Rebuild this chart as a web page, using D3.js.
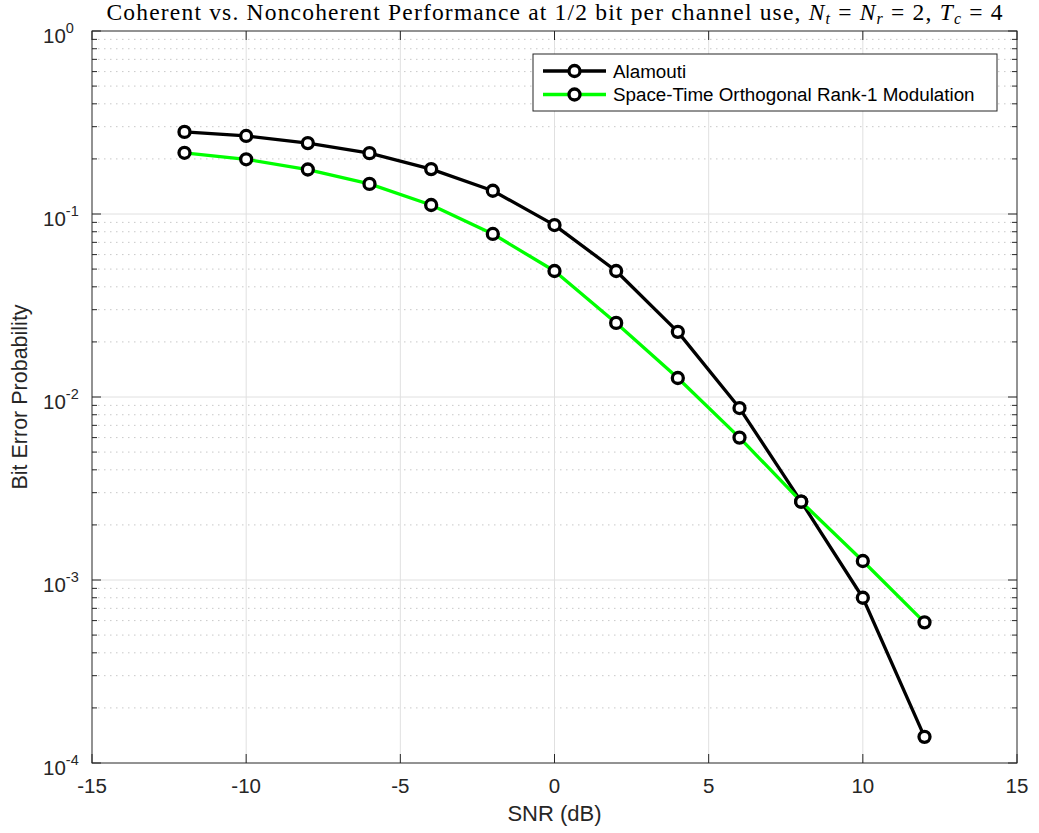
<!DOCTYPE html>
<html>
<head>
<meta charset="utf-8">
<script src="https://cdn.jsdelivr.net/npm/d3@7"></script>
<style>
  body { margin: 0; background: #fff; }
  text { font-family: "Liberation Sans", Arial, sans-serif; }
</style>
</head>
<body>
<div id="chart"></div>
<script>
// SNR points (dB) and bit error probabilities
const snr = [-12, -10, -8, -6, -4, -2, 0, 2, 4, 6, 8, 10, 12];
const alamouti = [0.281, 0.267, 0.244, 0.215, 0.176, 0.134, 0.087, 0.0488, 0.0227, 0.0087, 0.00268, 0.0008, 0.000139];
const rank1 = [0.216, 0.199, 0.175, 0.146, 0.112, 0.0778, 0.0488, 0.0254, 0.0127, 0.006, 0.00268, 0.00127, 0.000587];
const xTicks = [-15, -10, -5, 0, 5, 10, 15];
const yDecades = [0, -1, -2, -3, -4];
const seriesNames = ["Alamouti", "Space-Time Orthogonal Rank-1 Modulation"];
const seriesColors = ["#000000", "#00ff00"];

const width = 1039, height = 833;
const pL = 92, pR = 1017, pT = 31, pB = 763;

const svg = d3.select("#chart").append("svg")
  .attr("width", width)
  .attr("height", height);

const x = d3.scaleLinear().domain([-15, 15]).range([pL, pR]);
const y = d3.scaleLog().domain([1e-4, 1]).range([pB, pT]);

// minor dotted grid
let minors = [];
yDecades.slice(1).forEach(e => {
  for (let k = 2; k <= 9; k++) minors.push(k * Math.pow(10, e));
});
svg.append("g").selectAll("line").data(minors).enter().append("line")
  .attr("x1", pL).attr("x2", pR)
  .attr("y1", d => y(d)).attr("y2", d => y(d))
  .attr("stroke", "#c8c8c8").attr("stroke-width", 1)
  .attr("stroke-dasharray", "1.5,4.5");

// major grid
svg.append("g").selectAll("line").data(yDecades.slice(1, -1)).enter().append("line")
  .attr("x1", pL).attr("x2", pR)
  .attr("y1", d => y(Math.pow(10, d))).attr("y2", d => y(Math.pow(10, d)))
  .attr("stroke", "#e0e0e0").attr("stroke-width", 1);
svg.append("g").selectAll("line").data(xTicks.slice(1, -1)).enter().append("line")
  .attr("y1", pT).attr("y2", pB)
  .attr("x1", d => x(d)).attr("x2", d => x(d))
  .attr("stroke", "#e0e0e0").attr("stroke-width", 1);

// ticks (inside, on all four sides)
const axisColor = "#262626";
const tk = svg.append("g").attr("stroke", axisColor).attr("stroke-width", 1);
xTicks.forEach(t => {
  tk.append("line").attr("x1", x(t)).attr("x2", x(t)).attr("y1", pB).attr("y2", pB - 9);
  tk.append("line").attr("x1", x(t)).attr("x2", x(t)).attr("y1", pT).attr("y2", pT + 9);
});
yDecades.forEach(e => {
  const yy = y(Math.pow(10, e));
  tk.append("line").attr("x1", pL).attr("x2", pL + 9).attr("y1", yy).attr("y2", yy);
  tk.append("line").attr("x1", pR).attr("x2", pR - 9).attr("y1", yy).attr("y2", yy);
});
minors.forEach(m => {
  const yy = y(m);
  tk.append("line").attr("x1", pL).attr("x2", pL + 5).attr("y1", yy).attr("y2", yy);
  tk.append("line").attr("x1", pR).attr("x2", pR - 5).attr("y1", yy).attr("y2", yy);
});

// box
svg.append("rect")
  .attr("x", pL).attr("y", pT)
  .attr("width", pR - pL).attr("height", pB - pT)
  .attr("fill", "none").attr("stroke", axisColor).attr("stroke-width", 1);

// tick labels
svg.append("g").selectAll("text").data(xTicks).enter().append("text")
  .attr("x", d => x(d)).attr("y", pB + 30)
  .attr("text-anchor", "middle")
  .attr("font-size", 20.5).attr("fill", axisColor)
  .text(d => d);

const yl = svg.append("g").selectAll("text").data(yDecades).enter().append("text")
  .attr("x", 43).attr("y", d => y(Math.pow(10, d)) + 12)
  .attr("text-anchor", "start")
  .attr("font-size", 20.5).attr("fill", axisColor);
yl.append("tspan").text("10");
yl.append("tspan").attr("dy", -10).attr("font-size", 14.5).text(d => d);

// axis labels
svg.append("text")
  .attr("x", (pL + pR) / 2).attr("y", 821)
  .attr("text-anchor", "middle").attr("font-size", 22).attr("fill", axisColor)
  .text("SNR (dB)");
svg.append("text")
  .attr("transform", `translate(27, ${(pT + pB) / 2}) rotate(-90)`)
  .attr("text-anchor", "middle").attr("font-size", 21.5).attr("fill", axisColor)
  .text("Bit Error Probability");

// title
const title = svg.append("text")
  .attr("x", (pL + pR) / 2).attr("y", 20)
  .attr("text-anchor", "middle")
  .attr("font-size", 23.5)
  .attr("textLength", 896)
  .style("font-family", "'Liberation Serif', 'DejaVu Serif', serif")
  .attr("fill", "#000");
title.append("tspan").text("Coherent vs. Noncoherent Performance at 1/2 bit per channel use, ");
title.append("tspan").attr("font-style", "italic").text("N");
title.append("tspan").attr("font-style", "italic").attr("font-size", 16).attr("dy", 4).text("t");
title.append("tspan").attr("dy", -4).text(" = ");
title.append("tspan").attr("font-style", "italic").text("N");
title.append("tspan").attr("font-style", "italic").attr("font-size", 16).attr("dy", 4).text("r");
title.append("tspan").attr("dy", -4).text(" = 2, ");
title.append("tspan").attr("font-style", "italic").text("T");
title.append("tspan").attr("font-style", "italic").attr("font-size", 16).attr("dy", 4).text("c");
title.append("tspan").attr("dy", -4).text(" = 4");

// series
const allSeries = [alamouti, rank1];
const line = d3.line().x((d, i) => x(snr[i])).y(d => y(d));
const plot = svg.append("g");
allSeries.forEach((vals, s) => {
  plot.append("path").datum(vals)
    .attr("d", line)
    .attr("fill", "none")
    .attr("stroke", seriesColors[s])
    .attr("stroke-width", 3.3)
    .attr("stroke-linejoin", "round");
});
allSeries.forEach((vals, s) => {
  plot.selectAll(null).data(vals).enter().append("circle")
    .attr("cx", (d, i) => x(snr[i])).attr("cy", d => y(d))
    .attr("r", 5.5)
    .attr("fill", "#fff").attr("stroke", "#000").attr("stroke-width", 3.3);
});

// legend
const lg = svg.append("g");
lg.append("rect")
  .attr("x", 533).attr("y", 54).attr("width", 464).attr("height", 57)
  .attr("fill", "#fff").attr("stroke", axisColor).attr("stroke-width", 1);
seriesNames.forEach((name, s) => {
  const yy = 71 + s * 23.5;
  lg.append("line").attr("x1", 543).attr("x2", 606).attr("y1", yy).attr("y2", yy)
    .attr("stroke", seriesColors[s]).attr("stroke-width", 3.3);
  lg.append("circle").attr("cx", 574.5).attr("cy", yy).attr("r", 5.5)
    .attr("fill", "#fff").attr("stroke", "#000").attr("stroke-width", 3.3);
  lg.append("text").attr("x", 613).attr("y", yy + 6.5)
    .attr("font-size", 18.8).attr("fill", "#000").text(name);
});
</script>
</body>
</html>
